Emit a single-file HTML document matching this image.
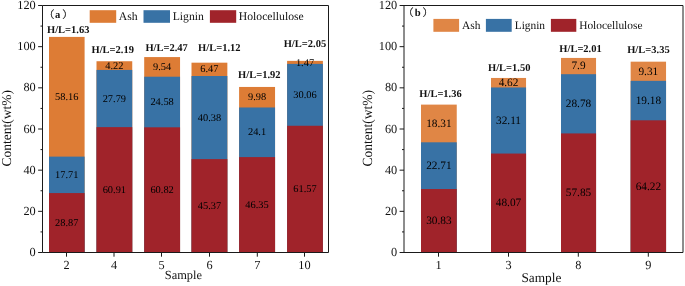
<!DOCTYPE html>
<html><head><meta charset="utf-8"><title>Content chart</title>
<style>
html,body{margin:0;padding:0;background:#fff;}
body{width:685px;height:286px;overflow:hidden;}
svg{display:block;text-rendering:geometricPrecision;font-family:"Liberation Serif","Noto Serif CJK SC",serif;fill:#111;}
</style></head><body>
<svg width="685" height="286" viewBox="0 0 685 286">
<rect width="685" height="286" fill="#fff"/>
<rect x="49.00" y="36.91" width="35.60" height="215.59" fill="#dd7c35"/>
<rect x="49.00" y="156.62" width="35.60" height="95.88" fill="#3872a5"/>
<rect x="49.00" y="193.08" width="35.60" height="59.42" fill="#a0232a"/>
<text x="66.80" y="225.90" font-size="10.4" text-anchor="middle" fill="#000">28.87</text>
<text x="66.80" y="177.96" font-size="10.4" text-anchor="middle" fill="#000">17.71</text>
<text x="66.80" y="99.88" font-size="10.4" text-anchor="middle" fill="#000">58.16</text>
<rect x="96.50" y="61.24" width="35.75" height="191.26" fill="#dd7c35"/>
<rect x="96.50" y="69.93" width="35.75" height="182.57" fill="#3872a5"/>
<rect x="96.50" y="127.13" width="35.75" height="125.37" fill="#a0232a"/>
<text x="114.38" y="192.93" font-size="10.4" text-anchor="middle" fill="#000">60.91</text>
<text x="114.38" y="101.64" font-size="10.4" text-anchor="middle" fill="#000">27.79</text>
<text x="114.38" y="68.70" font-size="10.4" text-anchor="middle" fill="#000">4.22</text>
<rect x="144.20" y="57.08" width="35.85" height="195.42" fill="#dd7c35"/>
<rect x="144.20" y="76.72" width="35.85" height="175.78" fill="#3872a5"/>
<rect x="144.20" y="127.31" width="35.85" height="125.19" fill="#a0232a"/>
<text x="162.12" y="193.02" font-size="10.4" text-anchor="middle" fill="#000">60.82</text>
<text x="162.12" y="105.13" font-size="10.4" text-anchor="middle" fill="#000">24.58</text>
<text x="162.12" y="70.02" font-size="10.4" text-anchor="middle" fill="#000">9.54</text>
<rect x="191.50" y="62.68" width="35.85" height="189.82" fill="#dd7c35"/>
<rect x="191.50" y="76.00" width="35.85" height="176.50" fill="#3872a5"/>
<rect x="191.50" y="159.11" width="35.85" height="93.39" fill="#a0232a"/>
<text x="209.43" y="208.92" font-size="10.4" text-anchor="middle" fill="#000">45.37</text>
<text x="209.43" y="120.67" font-size="10.4" text-anchor="middle" fill="#000">40.38</text>
<text x="209.43" y="72.45" font-size="10.4" text-anchor="middle" fill="#000">6.47</text>
<rect x="239.10" y="86.95" width="35.95" height="165.55" fill="#dd7c35"/>
<rect x="239.10" y="107.49" width="35.95" height="145.01" fill="#3872a5"/>
<rect x="239.10" y="157.10" width="35.95" height="95.40" fill="#a0232a"/>
<text x="257.07" y="207.91" font-size="10.4" text-anchor="middle" fill="#000">46.35</text>
<text x="257.07" y="135.41" font-size="10.4" text-anchor="middle" fill="#000">24.1</text>
<text x="257.07" y="100.33" font-size="10.4" text-anchor="middle" fill="#000">9.98</text>
<rect x="287.10" y="60.87" width="35.80" height="191.63" fill="#dd7c35"/>
<rect x="287.10" y="63.89" width="35.80" height="188.61" fill="#3872a5"/>
<rect x="287.10" y="125.77" width="35.80" height="126.73" fill="#a0232a"/>
<text x="305.00" y="192.25" font-size="10.4" text-anchor="middle" fill="#000">61.57</text>
<text x="305.00" y="97.95" font-size="10.4" text-anchor="middle" fill="#000">30.06</text>
<text x="305.00" y="65.50" font-size="10.4" text-anchor="middle" fill="#000">1.47</text>
<path d="M42.50 5.50H328.50V252.50H42.50Z" fill="none" stroke="#1a1a1a" stroke-width="1"/>
<path d="M38.10 252.50H42.50" stroke="#1a1a1a" stroke-width="1"/>
<text x="35.70" y="256.16" font-size="12.3" text-anchor="end">0</text>
<path d="M40.50 231.92H42.50" stroke="#1a1a1a" stroke-width="1"/>
<path d="M38.10 211.33H42.50" stroke="#1a1a1a" stroke-width="1"/>
<text x="35.70" y="214.99" font-size="12.3" text-anchor="end">20</text>
<path d="M40.50 190.75H42.50" stroke="#1a1a1a" stroke-width="1"/>
<path d="M38.10 170.17H42.50" stroke="#1a1a1a" stroke-width="1"/>
<text x="35.70" y="173.82" font-size="12.3" text-anchor="end">40</text>
<path d="M40.50 149.58H42.50" stroke="#1a1a1a" stroke-width="1"/>
<path d="M38.10 129.00H42.50" stroke="#1a1a1a" stroke-width="1"/>
<text x="35.70" y="132.66" font-size="12.3" text-anchor="end">60</text>
<path d="M40.50 108.42H42.50" stroke="#1a1a1a" stroke-width="1"/>
<path d="M38.10 87.83H42.50" stroke="#1a1a1a" stroke-width="1"/>
<text x="35.70" y="91.49" font-size="12.3" text-anchor="end">80</text>
<path d="M40.50 67.25H42.50" stroke="#1a1a1a" stroke-width="1"/>
<path d="M38.10 46.67H42.50" stroke="#1a1a1a" stroke-width="1"/>
<text x="35.70" y="50.32" font-size="12.3" text-anchor="end">100</text>
<path d="M40.50 26.08H42.50" stroke="#1a1a1a" stroke-width="1"/>
<path d="M38.10 5.50H42.50" stroke="#1a1a1a" stroke-width="1"/>
<text x="35.70" y="9.16" font-size="12.3" text-anchor="end">120</text>
<path d="M66.50 252.50V256.70" stroke="#1a1a1a" stroke-width="1"/>
<text x="66.50" y="269.10" font-size="12.3" text-anchor="middle">2</text>
<path d="M114.00 252.50V256.70" stroke="#1a1a1a" stroke-width="1"/>
<text x="114.00" y="269.10" font-size="12.3" text-anchor="middle">4</text>
<path d="M161.50 252.50V256.70" stroke="#1a1a1a" stroke-width="1"/>
<text x="161.50" y="269.10" font-size="12.3" text-anchor="middle">5</text>
<path d="M209.50 252.50V256.70" stroke="#1a1a1a" stroke-width="1"/>
<text x="209.50" y="269.10" font-size="12.3" text-anchor="middle">6</text>
<path d="M257.30 252.50V256.70" stroke="#1a1a1a" stroke-width="1"/>
<text x="257.30" y="269.10" font-size="12.3" text-anchor="middle">7</text>
<path d="M304.50 252.50V256.70" stroke="#1a1a1a" stroke-width="1"/>
<text x="304.50" y="269.10" font-size="12.3" text-anchor="middle">10</text>
<text x="47.00" y="32.50" font-size="10.5" font-weight="bold">H/L=1.63</text>
<text x="91.50" y="53.30" font-size="10.5" font-weight="bold">H/L=2.19</text>
<text x="145.40" y="50.70" font-size="10.5" font-weight="bold">H/L=2.47</text>
<text x="198.10" y="51.00" font-size="10.5" font-weight="bold">H/L=1.12</text>
<text x="238.10" y="78.20" font-size="10.5" font-weight="bold">H/L=1.92</text>
<text x="283.70" y="46.90" font-size="10.5" font-weight="bold">H/L=2.05</text>
<rect x="89.70" y="10.20" width="26.50" height="12.60" fill="#dd7c35"/>
<text x="118.80" y="19.70" font-size="11.7">Ash</text>
<rect x="143.50" y="10.20" width="26.50" height="12.60" fill="#3872a5"/>
<text x="172.70" y="19.70" font-size="11.7">Lignin</text>
<rect x="209.90" y="10.20" width="26.30" height="12.60" fill="#a0232a"/>
<text x="238.80" y="19.70" font-size="11.7">Holocellulose</text>
<text x="44.30" y="17.80" font-size="10.2" font-family="Noto Serif CJK SC" stroke="#222" stroke-width="0.25">（</text>
<text x="55.10" y="17.60" font-size="10.6" font-weight="bold">a</text>
<text x="62.30" y="17.80" font-size="10.2" font-family="Noto Serif CJK SC" stroke="#222" stroke-width="0.25">）</text>
<text transform="translate(10.9,128.3) rotate(-90)" font-size="13.5" text-anchor="middle">Content(wt%)</text>
<text x="183.4" y="278.9" font-size="12.4" text-anchor="middle">Sample</text>
<rect x="421.00" y="104.61" width="35.75" height="147.89" fill="#e08645"/>
<rect x="421.00" y="142.30" width="35.75" height="110.20" fill="#3872a5"/>
<rect x="421.00" y="189.04" width="35.75" height="63.46" fill="#a0232a"/>
<text x="438.88" y="224.19" font-size="11.3" text-anchor="middle" fill="#000">30.83</text>
<text x="438.88" y="169.09" font-size="11.3" text-anchor="middle" fill="#000">22.71</text>
<text x="438.88" y="126.87" font-size="11.3" text-anchor="middle" fill="#000">18.31</text>
<rect x="491.00" y="77.95" width="35.05" height="174.55" fill="#e08645"/>
<rect x="491.00" y="87.46" width="35.05" height="165.04" fill="#3872a5"/>
<rect x="491.00" y="153.56" width="35.05" height="98.94" fill="#a0232a"/>
<text x="508.52" y="206.45" font-size="11.3" text-anchor="middle" fill="#000">48.07</text>
<text x="508.52" y="123.93" font-size="11.3" text-anchor="middle" fill="#000">32.11</text>
<text x="508.52" y="86.13" font-size="11.3" text-anchor="middle" fill="#000">4.62</text>
<rect x="561.00" y="57.93" width="35.05" height="194.57" fill="#e08645"/>
<rect x="561.00" y="74.19" width="35.05" height="178.31" fill="#3872a5"/>
<rect x="561.00" y="133.43" width="35.05" height="119.07" fill="#a0232a"/>
<text x="578.52" y="196.38" font-size="11.3" text-anchor="middle" fill="#000">57.85</text>
<text x="578.52" y="107.23" font-size="11.3" text-anchor="middle" fill="#000">28.78</text>
<text x="578.52" y="69.48" font-size="11.3" text-anchor="middle" fill="#000">7.9</text>
<rect x="630.65" y="61.67" width="35.40" height="190.83" fill="#e08645"/>
<rect x="630.65" y="80.84" width="35.40" height="171.66" fill="#3872a5"/>
<rect x="630.65" y="120.31" width="35.40" height="132.19" fill="#a0232a"/>
<text x="648.35" y="189.83" font-size="11.3" text-anchor="middle" fill="#000">64.22</text>
<text x="648.35" y="103.99" font-size="11.3" text-anchor="middle" fill="#000">19.18</text>
<text x="648.35" y="74.67" font-size="11.3" text-anchor="middle" fill="#000">9.31</text>
<path d="M404.00 5.50H683.00V252.50H404.00Z" fill="none" stroke="#1a1a1a" stroke-width="1"/>
<path d="M399.60 252.50H404.00" stroke="#1a1a1a" stroke-width="1"/>
<text x="397.20" y="256.16" font-size="12.3" text-anchor="end">0</text>
<path d="M402.00 231.92H404.00" stroke="#1a1a1a" stroke-width="1"/>
<path d="M399.60 211.33H404.00" stroke="#1a1a1a" stroke-width="1"/>
<text x="397.20" y="214.99" font-size="12.3" text-anchor="end">20</text>
<path d="M402.00 190.75H404.00" stroke="#1a1a1a" stroke-width="1"/>
<path d="M399.60 170.17H404.00" stroke="#1a1a1a" stroke-width="1"/>
<text x="397.20" y="173.82" font-size="12.3" text-anchor="end">40</text>
<path d="M402.00 149.58H404.00" stroke="#1a1a1a" stroke-width="1"/>
<path d="M399.60 129.00H404.00" stroke="#1a1a1a" stroke-width="1"/>
<text x="397.20" y="132.66" font-size="12.3" text-anchor="end">60</text>
<path d="M402.00 108.42H404.00" stroke="#1a1a1a" stroke-width="1"/>
<path d="M399.60 87.83H404.00" stroke="#1a1a1a" stroke-width="1"/>
<text x="397.20" y="91.49" font-size="12.3" text-anchor="end">80</text>
<path d="M402.00 67.25H404.00" stroke="#1a1a1a" stroke-width="1"/>
<path d="M399.60 46.67H404.00" stroke="#1a1a1a" stroke-width="1"/>
<text x="397.20" y="50.32" font-size="12.3" text-anchor="end">100</text>
<path d="M402.00 26.08H404.00" stroke="#1a1a1a" stroke-width="1"/>
<path d="M399.60 5.50H404.00" stroke="#1a1a1a" stroke-width="1"/>
<text x="397.20" y="9.16" font-size="12.3" text-anchor="end">120</text>
<path d="M438.50 252.50V256.70" stroke="#1a1a1a" stroke-width="1"/>
<text x="438.50" y="269.10" font-size="12.3" text-anchor="middle">1</text>
<path d="M508.50 252.50V256.70" stroke="#1a1a1a" stroke-width="1"/>
<text x="508.50" y="269.10" font-size="12.3" text-anchor="middle">3</text>
<path d="M578.30 252.50V256.70" stroke="#1a1a1a" stroke-width="1"/>
<text x="578.30" y="269.10" font-size="12.3" text-anchor="middle">8</text>
<path d="M648.30 252.50V256.70" stroke="#1a1a1a" stroke-width="1"/>
<text x="648.30" y="269.10" font-size="12.3" text-anchor="middle">9</text>
<text x="419.30" y="97.30" font-size="10.5" font-weight="bold">H/L=1.36</text>
<text x="488.00" y="70.70" font-size="10.5" font-weight="bold">H/L=1.50</text>
<text x="559.30" y="51.50" font-size="10.5" font-weight="bold">H/L=2.01</text>
<text x="627.20" y="53.30" font-size="10.5" font-weight="bold">H/L=3.35</text>
<rect x="433.40" y="18.90" width="25.70" height="12.90" fill="#e08645"/>
<text x="462.00" y="28.90" font-size="11.4">Ash</text>
<rect x="485.90" y="18.90" width="25.80" height="12.90" fill="#3872a5"/>
<text x="514.70" y="28.90" font-size="11.4">Lignin</text>
<rect x="550.90" y="18.90" width="25.40" height="12.90" fill="#a0232a"/>
<text x="579.20" y="28.90" font-size="11.4">Holocellulose</text>
<text x="403.40" y="16.40" font-size="10.2" font-family="Noto Serif CJK SC" stroke="#222" stroke-width="0.25">（</text>
<text x="414.80" y="16.20" font-size="10.6" font-weight="bold">b</text>
<text x="422.60" y="16.40" font-size="10.2" font-family="Noto Serif CJK SC" stroke="#222" stroke-width="0.25">）</text>
<text transform="translate(372.3,128.3) rotate(-90) scale(0.964,1)" font-size="14" text-anchor="middle">Content(wt%)</text>
<text x="541.4" y="281.9" font-size="13.3" text-anchor="middle">Sample</text>
</svg></body></html>
